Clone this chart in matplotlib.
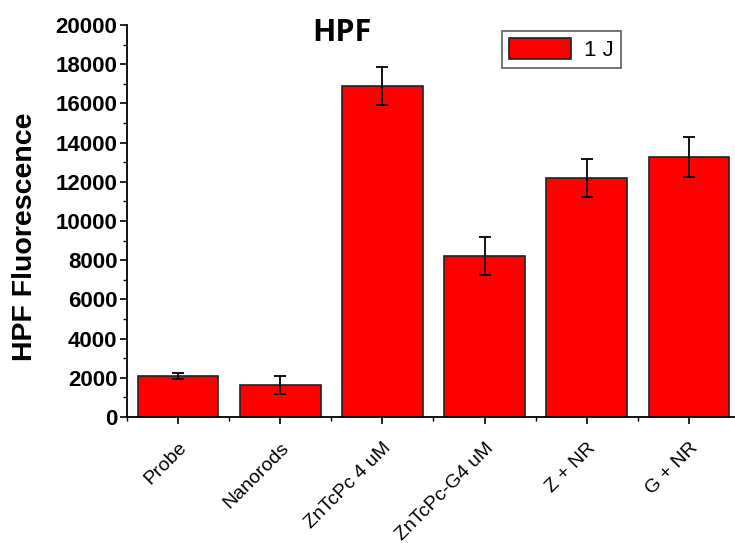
import matplotlib
matplotlib.use("Agg")
import matplotlib.pyplot as plt
import matplotlib.transforms as mtransforms
from matplotlib.ticker import MultipleLocator, FixedLocator

categories = ["Probe", "Nanorods", "ZnTcPc 4 uM", "ZnTcPc-G4 uM", "Z + NR", "G + NR"]
values = [2100, 1630, 16900, 8210, 12190, 13270]
errors = [150, 450, 960, 970, 970, 1000]
series_label = "1 J"

plt.rcParams['font.family'] = ['Liberation Sans', 'DejaVu Sans']

W, H = 735, 543
fig = plt.figure(figsize=(W / 100, H / 100), dpi=100)
ax = fig.add_axes([127 / W, (H - 417) / H, (740 - 127) / W, (417 - 25) / H])

x = list(range(len(categories)))
ax.bar(x, values, width=0.79, color="#ff0000", edgecolor="#222222", linewidth=1.2,
       label=series_label, zorder=2)
ax.errorbar(x, values, yerr=errors, fmt="none", ecolor="black", elinewidth=1.3,
            capsize=4, capthick=1.3, zorder=3)

ax.set_xlim(-0.5, 5.5)
ax.set_ylim(0, 20000)
ax.yaxis.set_major_locator(MultipleLocator(2000))
ax.yaxis.set_minor_locator(MultipleLocator(1000))
ax.set_xticks(x)
ax.xaxis.set_minor_locator(FixedLocator([i + 0.5 for i in range(-1, 6)]))
ax.set_xticklabels(categories, rotation=45, ha="right", rotation_mode="anchor",
                   fontsize=14)
offset = mtransforms.ScaledTranslation(6 / 100, 0, fig.dpi_scale_trans)
for lbl in ax.get_xticklabels():
    lbl.set_transform(lbl.get_transform() + offset)
for lbl in ax.get_yticklabels():
    lbl.set_fontweight("bold")
    lbl.set_fontsize(16)
ax.tick_params(axis="y", which="major", length=5, width=1.2, direction="out", pad=2)
ax.tick_params(axis="y", which="minor", length=3, width=1.0, direction="out")
ax.tick_params(axis="x", which="major", length=5, width=1.2, direction="out", pad=11)
ax.tick_params(axis="x", which="minor", length=3, width=1.0, direction="out")

for s in ["top", "right"]:
    ax.spines[s].set_visible(False)
for s in ["left", "bottom"]:
    ax.spines[s].set_linewidth(1.3)

fig.text(25 / W, 1 - 237 / H, "HPF Fluorescence", rotation=90, fontsize=20.5,
         fontweight="bold", ha="center", va="center")
fig.text(342 / W, 1 - 33 / H, "HPF", fontsize=22, fontweight="bold",
         ha="center", va="center", family=['Open Sans', 'DejaVu Sans'])

leg = ax.legend(loc="upper left", frameon=True, fancybox=False,
                edgecolor="#333333", fontsize=16, handlelength=2.8, handleheight=1.1,
                borderpad=0.3, handletextpad=0.6, borderaxespad=0)
leg.set_bbox_to_anchor((502 / W, 1 - 31 / H), transform=fig.transFigure)
leg.get_frame().set_linewidth(1.2)

fig.savefig("out.png", dpi=100)
